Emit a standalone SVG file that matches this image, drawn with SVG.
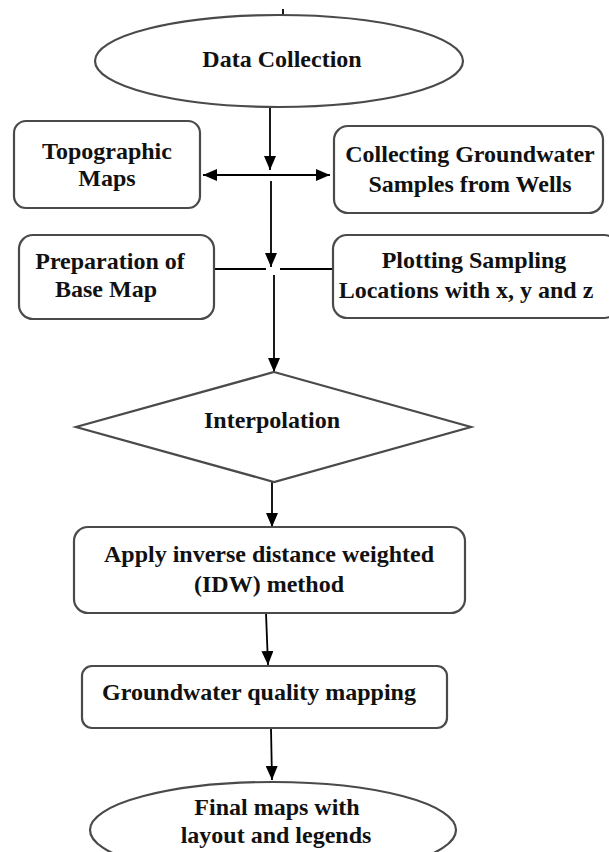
<svg xmlns="http://www.w3.org/2000/svg" width="609" height="852" viewBox="0 0 609 852">
<defs>
<marker id="ah" viewBox="0 0 14 12" refX="14" refY="6" markerWidth="14" markerHeight="12" markerUnits="userSpaceOnUse" orient="auto-start-reverse">
<path d="M0,0 L14,6 L0,12 Z" fill="#000"/>
</marker>
<style>
.shape{fill:#fff;stroke:#4a4a4a;stroke-width:2.2}
.t{font-family:"Liberation Serif","Times New Roman",serif;font-weight:bold;font-size:24px;fill:#111;text-anchor:middle}
.c{stroke:#000;stroke-width:1.8;fill:none}
.a{marker-end:url(#ah)}
</style>
</defs>
<rect width="609" height="852" fill="#fff"/>
<g id="connectors">
<line class="c" x1="283" y1="9" x2="283" y2="15"/>
<line class="c a" x1="270" y1="107" x2="270" y2="170"/>
<line class="c" x1="203" y1="175" x2="330" y2="175" marker-start="url(#ah)" marker-end="url(#ah)"/>
<line class="c a" x1="271" y1="181" x2="271" y2="267"/>
<line class="c" x1="215" y1="269" x2="266" y2="269"/>
<line class="c" x1="280" y1="269" x2="333" y2="269"/>
<line class="c a" x1="274" y1="275" x2="274" y2="372"/>
<line class="c a" x1="272" y1="482" x2="272" y2="527"/>
<line class="c a" x1="266" y1="613" x2="268" y2="665"/>
<line class="c a" x1="271" y1="728" x2="272" y2="780"/>
</g>
<g id="data-collection">
<ellipse class="shape" cx="279" cy="61" rx="184" ry="46"/>
<text class="t" x="282" y="67">Data Collection</text>
</g>
<g id="topographic-maps">
<rect class="shape" x="14" y="121" width="186" height="87" rx="12"/>
<text class="t" x="107" y="159">Topographic</text>
<text class="t" x="107" y="186">Maps</text>
</g>
<g id="collecting-samples">
<rect class="shape" x="334" y="126" width="269" height="87" rx="14"/>
<text class="t" x="470" y="162">Collecting Groundwater</text>
<text class="t" x="470" y="192">Samples from Wells</text>
</g>
<g id="base-map">
<rect class="shape" x="19" y="235" width="195" height="84" rx="14"/>
<text class="t" x="110" y="269">Preparation of</text>
<text class="t" x="106" y="297">Base Map</text>
</g>
<g id="plotting-locations">
<rect class="shape" x="333" y="235" width="285" height="83" rx="14"/>
<text class="t" x="474" y="268">Plotting Sampling</text>
<text class="t" x="466" y="298">Locations with x, y and z</text>
</g>
<g id="interpolation">
<polygon class="shape" points="274,372 471,427 274,482 76,427"/>
<text class="t" x="272" y="428">Interpolation</text>
</g>
<g id="idw">
<rect class="shape" x="74" y="527" width="391" height="86" rx="14"/>
<text class="t" x="269" y="562">Apply inverse distance weighted</text>
<text class="t" x="269" y="592">(IDW) method</text>
</g>
<g id="quality-mapping">
<rect class="shape" x="82" y="666" width="365" height="62" rx="10"/>
<text class="t" x="259" y="700">Groundwater quality mapping</text>
</g>
<g id="final-maps">
<ellipse class="shape" cx="273" cy="830" rx="183" ry="48"/>
<text class="t" x="277" y="815">Final maps with</text>
<text class="t" x="276" y="843">layout and legends</text>
</g>
</svg>
